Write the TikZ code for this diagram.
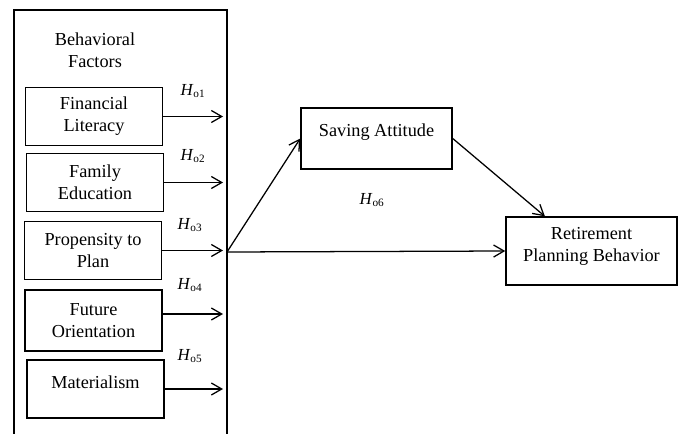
\documentclass[tikz,border=0pt]{standalone}
\usepackage{fontspec}
\setmainfont{Liberation Serif}
\usetikzlibrary{calc,arrows.meta}
\tikzset{>={Straight Barb[length=2.6mm,width=3mm]}}
\tikzset{
  factor/.style={draw, align=center, inner sep=1pt, minimum width=3.43cm, minimum height=1.45cm},
  outcome/.style={draw, align=center, inner sep=1pt},
  hyp/.style={inner sep=0pt, font=\fontsize{12}{14}\selectfont}
}
\newcommand{\hyp}[1]{\textit{H}\textsubscript{o#1}}

\begin{document}
\begin{tikzpicture}[x=0.025cm, y=-0.025cm, line width=0.9pt, font=\fontsize{13}{15.6}\selectfont]
\useasboundingbox (0,0) rectangle (684,434);
\draw (14,434) |- (227,10) -- (227,434);
\node[align=center] (bf) at (95,50.5) {Behavioral\\Factors};
\node[factor] (fin) at (94,116.5) {Financial\\Literacy};
\node[factor] (fam) at (95,182.5) {Family\\Education};
\node[factor] (prop) at (93,250.5) {Propensity to\\Plan};
\node[factor, minimum height=1.52cm] (fut) at (93.5,320.5) {Future\\Orientation};
\node[factor, text depth=10pt] (mat) at (95.5,389) {Materialism};
\node[outcome, minimum width=3.78cm, minimum height=1.52cm, text depth=12pt] (save) at (376.5,138.5) {Saving Attitude};
\node[outcome, minimum width=4.28cm, minimum height=1.7cm, text depth=9pt] (ret) at (591.5,251) {Retirement\\Planning Behavior};
\node[hyp] (h1) at (193,91) {\hyp{1}};
\node[hyp] (h2) at (193,156) {\hyp{2}};
\node[hyp] (h3) at (190,225) {\hyp{3}};
\node[hyp] (h4) at (190,285) {\hyp{4}};
\node[hyp] (h5) at (190,356) {\hyp{5}};
\node[hyp] (h6) at (372,200) {\hyp{6}};
\coordinate (rim) at (223,0);
\coordinate (j) at (227,252);
\draw[->] (fin.east) -- (fin.east -| rim);
\draw[->] (fam.east) -- (fam.east -| rim);
\draw[->] (prop.east) -- (prop.east -| rim);
\draw[->] ($(fut.east)+(0,-6.5)$) -- ($(fut.east -| rim)+(0,-6.5)$);
\draw[->] (mat.east) -- (mat.east -| rim);
\draw[->] (j) -- (save.west);
\draw[->] (j) -- (ret.west);
\draw[->] (save.east) -- ($(ret.north west)!0.23!(ret.north east)$);
\end{tikzpicture}
\end{document}
